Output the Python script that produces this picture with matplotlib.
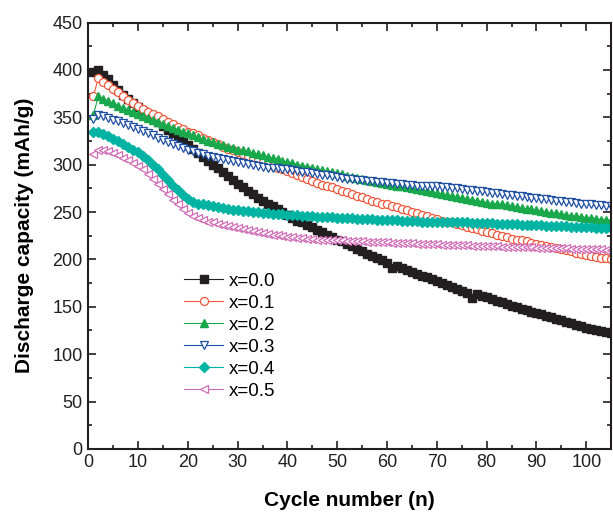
import matplotlib
matplotlib.use("Agg")
import matplotlib.pyplot as plt
from matplotlib.ticker import MultipleLocator

plt.rcParams['font.family'] = ['Liberation Sans', 'DejaVu Sans']

cycles = list(range(1, 106))

cap_00 = [398, 400, 395, 390, 384, 379, 374, 369, 365, 361,
          357, 353, 349, 345, 341, 337, 333, 329, 325, 321,
          317, 312, 308, 304, 300, 296, 292, 288, 284, 280,
          276, 272, 269, 265, 262, 259, 256, 253, 250, 247,
          244, 241, 239, 236, 234, 231, 229, 226, 224, 221,
          219, 216, 214, 211, 209, 206, 204, 201, 199, 196,
          191, 193, 191, 189, 187, 185, 183, 181, 179, 177,
          175, 173, 171, 169, 167, 165, 159, 163, 161, 160,
          158, 156, 155, 153, 151, 150, 148, 147, 145, 143,
          142, 140, 139, 137, 136, 134, 133, 131, 130, 128,
          127, 126, 124, 123, 122]

cap_01 = [372, 391, 387, 384, 380, 377, 373, 368, 365, 362,
          359, 356, 353, 351, 348, 345, 343, 340, 338, 335,
          333, 331, 328, 326, 324, 322, 319, 317, 315, 313,
          311, 309, 307, 305, 303, 301, 299, 297, 295, 293,
          291, 289, 287, 285, 283, 281, 279, 278, 276, 274,
          272, 271, 269, 267, 266, 264, 262, 261, 259, 258,
          256, 255, 253, 252, 250, 249, 247, 246, 244, 243,
          241, 240, 239, 237, 236, 234, 233, 232, 230, 229,
          228, 226, 225, 224, 222, 221, 220, 219, 217, 216,
          215, 214, 213, 212, 211, 210, 209, 207, 206, 205,
          204, 203, 202, 201, 200]

cap_02 = [352, 372, 369, 367, 365, 362, 360, 358, 356, 353,
          351, 349, 347, 345, 343, 341, 339, 337, 335, 333,
          331, 329, 327, 325, 324, 322, 321, 319, 318, 316,
          315, 314, 312, 311, 310, 308, 307, 306, 304, 303,
          302, 300, 299, 298, 297, 295, 294, 293, 292, 291,
          290, 288, 287, 286, 285, 284, 283, 282, 281, 280,
          279, 278, 277, 276, 275, 274, 273, 272, 271, 270,
          269, 268, 267, 266, 265, 264, 263, 262, 261, 260,
          259, 259, 258, 257, 256, 255, 254, 253, 253, 252,
          251, 250, 249, 249, 248, 247, 246, 246, 245, 244,
          244, 243, 242, 242, 241]

cap_03 = [348, 352, 351, 349, 347, 346, 344, 342, 340, 338,
          336, 333, 331, 328, 326, 324, 322, 320, 318, 316,
          314, 312, 311, 309, 308, 307, 306, 305, 304, 303,
          302, 301, 300, 299, 298, 297, 297, 296, 295, 295,
          294, 293, 292, 292, 291, 290, 289, 289, 288, 287,
          286, 285, 285, 284, 284, 283, 283, 282, 282, 281,
          281, 280, 280, 279, 279, 278, 278, 278, 277, 277,
          276, 276, 275, 275, 274, 273, 273, 272, 272, 271,
          270, 270, 269, 268, 268, 267, 267, 266, 265, 265,
          264, 264, 263, 262, 262, 261, 261, 260, 259, 259,
          258, 257, 257, 256, 256]

cap_04 = [335, 334, 332, 330, 327, 325, 322, 319, 316, 313,
          309, 305, 300, 295, 289, 284, 278, 273, 268, 264,
          261, 259, 258, 257, 256, 255, 254, 253, 252, 252,
          251, 251, 250, 250, 249, 249, 248, 248, 248, 247,
          247, 247, 246, 246, 246, 245, 245, 245, 245, 244,
          244, 244, 244, 243, 243, 243, 243, 242, 242, 242,
          242, 242, 241, 241, 241, 241, 240, 240, 240, 240,
          240, 239, 239, 239, 239, 239, 238, 238, 238, 238,
          238, 237, 237, 237, 237, 237, 236, 236, 236, 236,
          236, 235, 235, 235, 235, 235, 234, 234, 234, 234,
          234, 233, 233, 233, 233]

cap_05 = [311, 315, 316, 314, 312, 310, 307, 305, 302, 299,
          295, 290, 285, 280, 274, 269, 263, 258, 253, 249,
          246, 244, 242, 240, 239, 237, 236, 235, 234, 233,
          232, 231, 230, 229, 228, 227, 226, 226, 225, 224,
          224, 223, 223, 222, 222, 221, 221, 221, 220, 220,
          220, 219, 219, 219, 219, 218, 218, 218, 218, 218,
          217, 217, 217, 217, 217, 216, 216, 216, 216, 216,
          215, 215, 215, 215, 215, 215, 214, 214, 214, 214,
          214, 214, 213, 213, 213, 213, 213, 213, 213, 212,
          212, 212, 212, 212, 212, 212, 211, 211, 211, 211,
          211, 211, 211, 210, 210]

labels = ["x=0.0", "x=0.1", "x=0.2", "x=0.3", "x=0.4", "x=0.5"]

fig = plt.figure(figsize=(6.13, 5.13), dpi=100)
ax = fig.add_axes([0.144, 0.125, 0.853, 0.831])

ax.plot(cycles, cap_00, '-s', color='#231f20', mfc='#231f20', mec='#231f20',
        ms=5.8, lw=0.8, label=labels[0])
ax.plot(cycles, cap_01, '-o', color='#f0573c', mfc='white', mec='#f0573c',
        ms=5.8, mew=0.9, lw=0.8, label=labels[1])
ax.plot(cycles, cap_02, '-^', color='#1aa84c', mfc='#1aa84c', mec='#1aa84c',
        ms=6, lw=0.8, label=labels[2])
ax.plot(cycles, cap_03, '-v', color='#1f4fa3', mfc='white', mec='#1f4fa3',
        ms=6, mew=0.9, lw=0.8, label=labels[3])
ax.plot(cycles, cap_04, '-D', color='#00b3a3', mfc='#00b3a3', mec='#00b3a3',
        ms=5.3, lw=0.8, label=labels[4])
ax.plot(cycles, cap_05, '-<', color='#d06cb6', mfc='white', mec='#d06cb6',
        ms=6, mew=0.9, lw=0.8, label=labels[5])

ax.set_xlim(0, 105)
ax.set_ylim(0, 450)
ax.xaxis.set_major_locator(MultipleLocator(10))
ax.xaxis.set_minor_locator(MultipleLocator(5))
ax.yaxis.set_major_locator(MultipleLocator(50))
ax.yaxis.set_minor_locator(MultipleLocator(25))
ax.tick_params(which='both', direction='in', top=True, right=True,
               width=1.2, labelsize=13, colors='#231f20', pad=4)
ax.tick_params(which='major', length=6)
ax.tick_params(which='minor', length=3)
for s in ax.spines.values():
    s.set_linewidth(1.5)
    s.set_color('#231f20')

ax.set_xlabel("Cycle number (n)", fontsize=15, fontweight='bold', labelpad=14)
ax.set_ylabel("Discharge capacity (mAh/g)", fontsize=15, fontweight='bold', labelpad=13)

leg = ax.legend(loc='upper left', bbox_to_anchor=(0.165, 0.435), frameon=False,
                fontsize=13.5, numpoints=1, handlelength=2.1, handletextpad=0.27,
                labelspacing=0.26, borderpad=0)

plt.savefig("out.png", dpi=100)
plt.close()
